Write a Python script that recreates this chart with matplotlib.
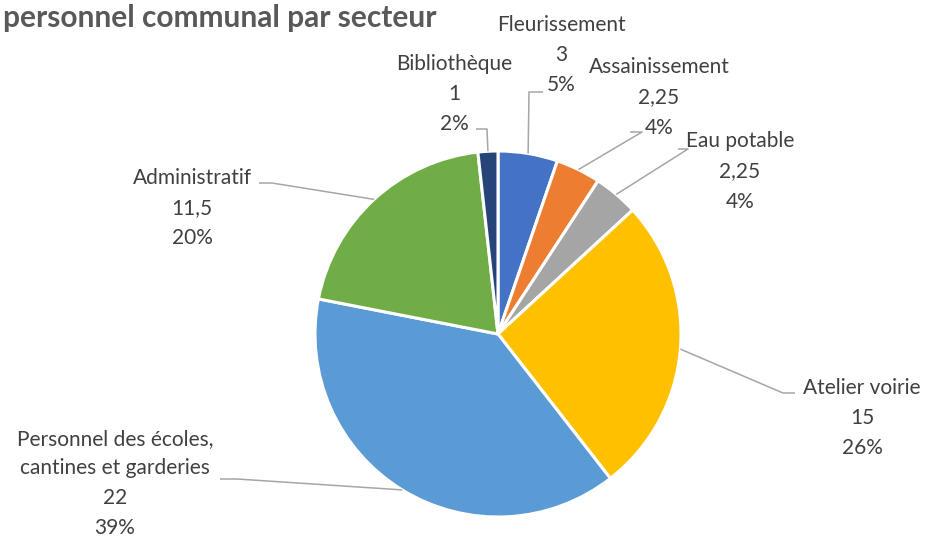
import numpy as np
import matplotlib
matplotlib.use("Agg")
import matplotlib.pyplot as plt

plt.rcParams['font.family'] = ['Lato', 'DejaVu Sans']

# Effectifs du personnel communal par secteur (équivalents temps plein)
secteurs = ["Fleurissement", "Assainissement", "Eau potable", "Atelier voirie",
            "Personnel des écoles,\ncantines et garderies", "Administratif", "Bibliothèque"]
effectifs = [3, 2.25, 2.25, 15, 22, 11.5, 1]
couleurs = ["#4472C4", "#ED7D31", "#A5A5A5", "#FFC000", "#5B9BD5", "#70AD47", "#264478"]

W, H = 925, 538
fig = plt.figure(figsize=(W / 100, H / 100), dpi=100)
ax = fig.add_axes([0, 0, 1, 1])


def py(y):
    """Convert a top-down pixel row into axis units."""
    return H - y


cx, cy, r = 498, py(334), 183
ax.pie(effectifs, colors=couleurs, startangle=90, counterclock=False,
       center=(cx, cy), radius=r, frame=True,
       wedgeprops=dict(edgecolor="white", linewidth=2.2))
ax.set_xlim(0, W)
ax.set_ylim(0, H)
ax.axis("off")

total = sum(effectifs)


def fmt(v):
    return f"{v:g}".replace(".", ",")


# label anchor: horizontal centre, first-line row, line pitch
label_pos = [(561, 25, 30), (659, 67, 30.5), (740, 141, 30.5), (862, 388, 30),
             (115, 439, 29.5), (192, 178, 30), (454, 64, 30)]
# leader-line knees (text end first, then the elbow)
elbows = [
    [(543, 92), (529, 92)],
    [(630, 132), (642, 132)],
    [(678, 149), (688, 149)],
    [(795, 393), (783, 393)],
    [(220, 479), (237, 479)],
    [(259, 183), (272, 183)],
    [(476, 129), (487, 129)],
]

cum = np.cumsum([0] + effectifs)
for i, (name, v) in enumerate(zip(secteurs, effectifs)):
    mid = (cum[i] + cum[i + 1]) / 2 / total * 2 * np.pi
    ex = cx + r * np.sin(mid)
    ey = cy + r * np.cos(mid)
    pts = [(x, py(y)) for x, y in elbows[i]] + [(ex, ey)]
    xs, ys = zip(*pts)
    ax.plot(xs, ys, color="#A6A6A6", lw=1.1, solid_capstyle="butt", zorder=1)
    pct = round(v / total * 100)
    lines = name.split("\n") + [fmt(v), f"{pct}%"]
    lx, ly, pitch = label_pos[i]
    for k, line in enumerate(lines):
        ax.text(lx, py(ly + k * pitch), line, ha="center", va="center",
                fontsize=15, color="#404040")

ax.text(3, py(18), "personnel communal par secteur", ha="left", va="center",
        fontsize=21.5, fontweight="bold", color="#595959")

fig.savefig("out.png", dpi=100)
